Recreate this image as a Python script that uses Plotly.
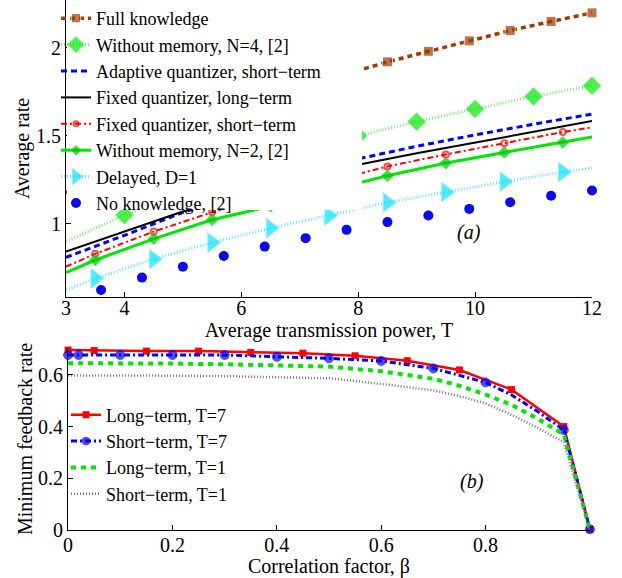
import plotly.graph_objects as go

# ---------------- Top panel (a) data ----------------
T_full = [3.0, 3.6, 4.3, 5.0, 5.7, 6.4, 7.1, 7.8, 8.5, 9.2, 9.9, 10.6, 11.3, 12.0]
full_knowledge = [1.175, 1.30, 1.42, 1.52, 1.61, 1.69, 1.77, 1.85, 1.919, 1.979, 2.038, 2.097, 2.148, 2.197]

T_int = [3, 4, 5, 6, 7, 8, 9, 10, 11, 12]
without_mem_n4 = [0.90, 1.05, 1.18, 1.29, 1.40, 1.50, 1.58, 1.652, 1.723, 1.784]
adaptive_short = [0.81, 0.935, 1.065, 1.17, 1.27, 1.369, 1.44, 1.505, 1.565, 1.623]
fixed_long = [0.843, 0.957, 1.07, 1.165, 1.25, 1.335, 1.40, 1.462, 1.524, 1.583]

T_half = [3, 3.5, 4.5, 5.5, 6.5, 7.5, 8.5, 9.5, 10.5, 11.5, 12]
fixed_short = [0.757, 0.83, 0.956, 1.066, 1.155, 1.24, 1.326, 1.394, 1.458, 1.521, 1.547]
without_mem_n2 = [0.723, 0.795, 0.915, 1.023, 1.10, 1.19, 1.273, 1.345, 1.405, 1.462, 1.493]
delayed_d1 = [0.625, 0.69, 0.80, 0.894, 0.976, 1.047, 1.121, 1.18, 1.24, 1.294, 1.316]

T_nk = [3.6, 4.3, 5.0, 5.7, 6.4, 7.1, 7.8, 8.5, 9.2, 9.9, 10.6, 11.3, 12.0]
no_knowledge = [0.625, 0.695, 0.757, 0.818, 0.871, 0.919, 0.966, 1.01, 1.047, 1.085, 1.123, 1.159, 1.189]

# ---------------- Bottom panel (b) data ----------------
beta_long7 = [0, 0.05, 0.15, 0.25, 0.35, 0.45, 0.55, 0.65, 0.75, 0.85, 0.95, 1.0]
long_t7 = [0.696, 0.694, 0.692, 0.692, 0.687, 0.684, 0.674, 0.655, 0.619, 0.543, 0.40, 0.003]
beta_short7 = [0, 0.02, 0.1, 0.2, 0.3, 0.4, 0.5, 0.6, 0.7, 0.8, 0.85, 0.9, 0.95, 1.0]
short_t7 = [0.677, 0.677, 0.677, 0.677, 0.677, 0.670, 0.664, 0.654, 0.625, 0.571, 0.522, 0.458, 0.387, 0.003]
beta_t1 = [0, 0.1, 0.2, 0.3, 0.4, 0.5, 0.6, 0.7, 0.75, 0.8, 0.85, 0.9, 0.95, 1.0]
long_t1 = [0.645, 0.645, 0.644, 0.641, 0.637, 0.632, 0.614, 0.585, 0.558, 0.524, 0.484, 0.43, 0.37, 0.0]
short_t1 = [0.598, 0.598, 0.597, 0.595, 0.592, 0.587, 0.565, 0.54, 0.518, 0.49, 0.445, 0.395, 0.34, 0.0]

x_ticks_top = [3, 4, 6, 8, 10, 12]
y_ticks_top = [1, 1.5, 2]
x_ticks_bot = [0, 0.2, 0.4, 0.6, 0.8]
y_ticks_bot = [0, 0.2, 0.4, 0.6]

FONT = "'Liberation Serif', 'Times New Roman', serif"
LEG_SIZE = 18
fig = go.Figure()

def sizes(xs, s, skip):
    return [0 if x in skip else s for x in xs]

# Top traces
fig.add_trace(go.Scatter(x=T_full, y=full_knowledge, name="Full knowledge", mode="lines+markers",
                         line=dict(color="rgb(160,60,0)", width=3.5, dash="5px,4px"),
                         marker=dict(symbol="square", size=sizes(T_full, 10, [3.0]), color="rgb(160,60,0)"),
                         cliponaxis=False, legend="legend"))
fig.add_trace(go.Scatter(x=T_int, y=without_mem_n4, name="Without memory, N=4, [2]", mode="lines+markers",
                         line=dict(color="rgb(120,235,120)", width=3, dash="1px,2px"),
                         marker=dict(symbol="diamond", size=sizes(T_int, 14, [3]), color="rgb(0,235,0)"),
                         cliponaxis=False, legend="legend"))
fig.add_trace(go.Scatter(x=T_int, y=adaptive_short, name="Adaptive quantizer, short\u2212term", mode="lines",
                         line=dict(color="rgb(0,0,255)", width=3, dash="6px,4px"), legend="legend"))
fig.add_trace(go.Scatter(x=T_int, y=fixed_long, name="Fixed quantizer, long\u2212term", mode="lines",
                         line=dict(color="black", width=2), legend="legend"))
fig.add_trace(go.Scatter(x=T_half, y=fixed_short, name="Fixed quantizer, short\u2212term", mode="lines+markers",
                         line=dict(color="rgb(255,0,0)", width=2, dash="6px,3px,2px,3px"),
                         marker=dict(symbol="circle-open", size=sizes(T_half, 6, [3, 12]), color="rgb(255,0,0)",
                                     line=dict(width=2, color="rgb(255,0,0)")),
                         cliponaxis=False, legend="legend"))
fig.add_trace(go.Scatter(x=T_half, y=without_mem_n2, name="Without memory, N=2, [2]", mode="lines+markers",
                         line=dict(color="rgb(0,230,0)", width=3),
                         marker=dict(symbol="diamond", size=sizes(T_half, 9, [3, 12]), color="rgb(0,200,0)"),
                         cliponaxis=False, legend="legend"))
fig.add_trace(go.Scatter(x=T_half, y=delayed_d1, name="Delayed, D=1", mode="lines+markers",
                         line=dict(color="rgb(110,225,255)", width=3, dash="1px,2px"),
                         marker=dict(symbol="triangle-right", size=sizes(T_half, 17, [3, 12]), color="rgb(0,230,255)"),
                         cliponaxis=False, legend="legend"))
fig.add_trace(go.Scatter(x=T_nk, y=no_knowledge, name="No knowledge, [2]", mode="markers",
                         marker=dict(symbol="circle", size=10, color="rgb(10,10,240)"),
                         cliponaxis=False, legend="legend"))

# Bottom traces
fig.add_trace(go.Scatter(x=beta_long7, y=long_t7, name="Long\u2212term, T=7", mode="lines+markers",
                         xaxis="x2", yaxis="y2",
                         line=dict(color="rgb(255,0,0)", width=2.5),
                         marker=dict(symbol="square", size=7, color="rgb(255,0,0)"),
                         cliponaxis=False, legend="legend2"))
fig.add_trace(go.Scatter(x=beta_short7, y=short_t7, name="Short\u2212term, T=7", mode="lines+markers",
                         xaxis="x2", yaxis="y2",
                         line=dict(color="rgb(0,0,255)", width=3, dash="6px,3px,2px,3px"),
                         marker=dict(symbol="circle", size=sizes(beta_short7, 9, [0.85, 0.9]), color="rgb(0,0,255)",
                                     line=dict(width=1, color="rgb(0,0,255)")),
                         cliponaxis=False, legend="legend2"))
fig.add_trace(go.Scatter(x=beta_t1, y=long_t1, name="Long\u2212term, T=1", mode="lines",
                         xaxis="x2", yaxis="y2",
                         line=dict(color="rgb(0,230,0)", width=4, dash="5px,5px"),
                         legend="legend2"))
fig.add_trace(go.Scatter(x=beta_t1, y=short_t1, name="Short\u2212term, T=1", mode="lines",
                         xaxis="x2", yaxis="y2",
                         line=dict(color="rgb(120,120,120)", width=2.5, dash="1px,2px"),
                         legend="legend2"))

axis_common = dict(showline=True, linecolor="black", linewidth=1, mirror=False, showgrid=False,
                   zeroline=False, ticks="inside", ticklen=5, tickcolor="black",
                   tickfont=dict(family=FONT, size=20, color="black"))

fig.update_layout(
    width=622, height=578,
    margin=dict(l=66, r=30, t=0, b=48),
    paper_bgcolor="white", plot_bgcolor="white",
    font=dict(family=FONT, size=20, color="black"),
    xaxis=dict(domain=[0, 1], range=[3, 12], anchor="y", tickvals=x_ticks_top,
               ticktext=[str(v) for v in x_ticks_top], ticklabelstandoff=-7,
               title=dict(text="Average transmission power, T", standoff=0,
                          font=dict(family=FONT, size=20)), **axis_common),
    yaxis=dict(domain=[0.4396, 1.0], range=[0.585, 2.27], anchor="x", tickvals=y_ticks_top,
               ticktext=["1", "1.5", "2"],
               title=dict(text="Average rate", standoff=0, font=dict(family=FONT, size=20)), **axis_common),
    xaxis2=dict(domain=[0.004, 0.996], range=[0, 1], anchor="y2", tickvals=x_ticks_bot,
                ticktext=["0", "0.2", "0.4", "0.6", "0.8"], ticklabelstandoff=-3,
                title=dict(text="Correlation factor, \u03b2", standoff=0,
                           font=dict(family=FONT, size=20)), **axis_common),
    yaxis2=dict(domain=[0, 0.3434], range=[0, 0.704], anchor="x2", tickvals=y_ticks_bot,
                ticktext=["0", "0.2", "0.4", "0.6"],
                title=dict(text="Minimum feedback rate", standoff=0, font=dict(family=FONT, size=20)),
                **axis_common),
    legend=dict(x=-0.019, y=1.0, xanchor="left", yanchor="top", bgcolor="rgba(255,255,255,0)",
                borderwidth=0, font=dict(family=FONT, size=LEG_SIZE), tracegroupgap=0, itemwidth=30),
    legend2=dict(x=0.0, y=0.252, xanchor="left", yanchor="top", bgcolor="rgba(255,255,255,0)",
                 borderwidth=0, font=dict(family=FONT, size=LEG_SIZE), tracegroupgap=0, itemwidth=30),
    shapes=[
        # white legend box of panel (a), hiding the curves behind the legend
        dict(type="rect", xref="paper", yref="paper", x0=0.002, x1=0.563, y0=0.604, y1=1.0,
             fillcolor="white", line=dict(width=0), layer="above"),
    ],
    annotations=[
        dict(text="(a)", x=9.89, y=0.95, xref="x", yref="y", showarrow=False,
             font=dict(family=FONT, size=20, style="italic")),
        dict(text="(b)", x=0.774, y=0.186, xref="x2", yref="y2", showarrow=False,
             font=dict(family=FONT, size=20, style="italic")),
    ],
)

fig.write_html("out.html", config={"displayModeBar": False},
               post_script="document.body.style.margin='0';document.body.style.overflow='hidden';")
